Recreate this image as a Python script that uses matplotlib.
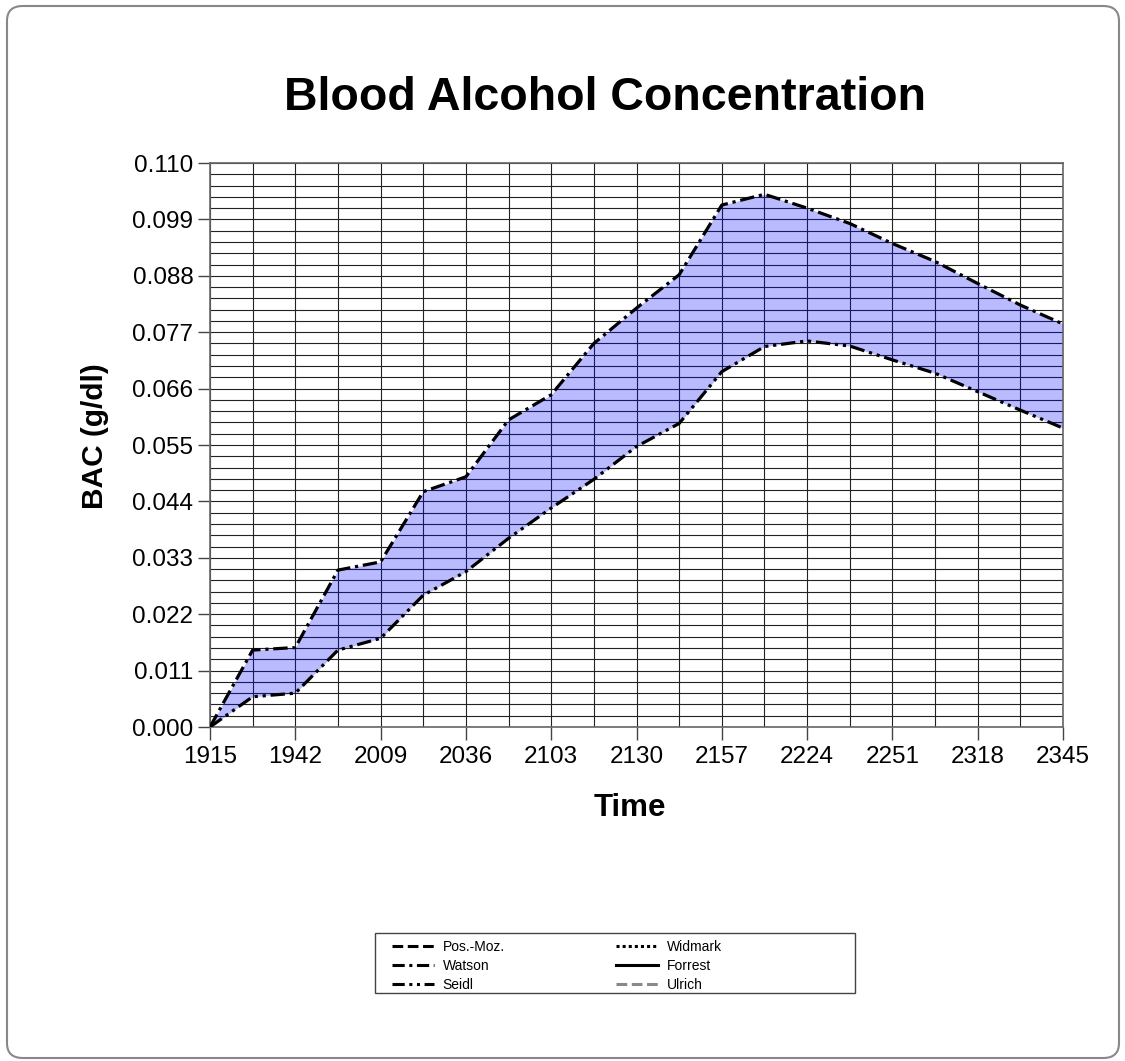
import matplotlib
matplotlib.use("Agg")
import matplotlib.pyplot as plt
from matplotlib.lines import Line2D
from matplotlib.patches import FancyBboxPatch, Rectangle
import numpy as np

plt.rcParams['font.family'] = ['Liberation Sans', 'DejaVu Sans']

# time of day (HHMM), labelled every other sample
time_labels = ['1915', '1942', '2009', '2036', '2103', '2130',
               '2157', '2224', '2251', '2318', '2345']

# BAC (g/dl) per sample
watson = [0.0, 0.0150, 0.0155, 0.0306, 0.0322, 0.0459, 0.0488, 0.0599,
          0.0648, 0.0748, 0.0817, 0.0882, 0.1018, 0.1039, 0.1012, 0.0982,
          0.0943, 0.0908, 0.0865, 0.0823, 0.0786]
seidl = [0.0, 0.0059, 0.0066, 0.0150, 0.0173, 0.0257, 0.0303, 0.0368,
         0.0427, 0.0483, 0.0547, 0.0592, 0.0693, 0.0742, 0.0753, 0.0743,
         0.0716, 0.0690, 0.0654, 0.0618, 0.0583]

W, H = 1125, 1061
fig = plt.figure(figsize=(W / 100, H / 100), dpi=100)
ax = fig.add_axes([210 / W, 1 - 727 / H, 853 / W, 564 / H])

x = np.arange(len(watson))

ax.fill_between(x, seidl, watson, color='blue', alpha=0.27, lw=0, zorder=2)
ax.plot(x, watson, color='black', lw=2.3, dashes=(4.5, 1.5, 1, 1.5), zorder=3)
ax.plot(x, seidl, color='black', lw=2.3, dashes=(4.5, 1.5, 1, 1.5, 1, 1.5), zorder=3)

ax.set_xlim(0, len(x) - 1)
ax.set_ylim(0, 0.110)
ax.set_xticks(x[::2])
ax.set_xticklabels(time_labels)
ax.set_xticks(x, minor=True)
ax.set_yticks(np.arange(0, 0.1101, 0.011))
ax.set_yticks(np.arange(0, 0.1101, 0.0022), minor=True)
ax.yaxis.set_major_formatter(plt.FormatStrFormatter('%.3f'))

ax.set_axisbelow(True)
ax.grid(which='both', color='#222222', lw=0.8)
ax.tick_params(which='major', length=9, width=1, color='#444444',
               labelsize=17.5, pad=5)
ax.tick_params(axis='y', which='major', pad=3)
ax.tick_params(which='minor', length=0)
for s in ax.spines.values():
    s.set_color('#666666')
    s.set_linewidth(1.2)

fig.text(605 / W, 1 - 98 / H, 'Blood Alcohol Concentration', fontsize=33.5,
         fontweight='bold', ha='center', va='center')
fig.text(630 / W, 1 - 808 / H, 'Time', fontsize=22.5, fontweight='bold',
         ha='center', va='center')
fig.text(95 / W, 1 - 436 / H, 'BAC (g/dl)', fontsize=21.5, fontweight='bold',
         rotation=90, ha='center', va='center')

# legend
handles = [
    Line2D([], [], color='black', lw=2.2, dashes=(3.5, 1.5)),
    Line2D([], [], color='black', lw=2.2, dashes=(4, 1.5, 1, 1.5)),
    Line2D([], [], color='black', lw=2.2, dashes=(4, 1.5, 1, 1.5, 1, 1.5)),
    Line2D([], [], color='black', lw=2.2, dashes=(1, 1)),
    Line2D([], [], color='black', lw=2.2),
    Line2D([], [], color='#888888', lw=2.2, dashes=(3.5, 1.5)),
]
names = ['Pos.-Moz.', 'Watson', 'Seidl', 'Widmark', 'Forrest', 'Ulrich']
fig.legend(handles, names, loc='upper left', bbox_to_anchor=(392 / W, 1 - 940 / H),
           frameon=False, ncol=2, fontsize=10, handlelength=3,
           handletextpad=0.65, columnspacing=8.0, labelspacing=0.35,
           borderpad=0, borderaxespad=0)
fig.patches.append(Rectangle((375 / W, 1 - 993 / H), 480 / W, 60 / H,
                             transform=fig.transFigure, fill=False,
                             edgecolor='#444444', lw=1))

# outer rounded border
fig.patches.append(FancyBboxPatch((7 / W, 3 / H), 1112 / W, 1052 / H,
                                  boxstyle='round,pad=0,rounding_size=0.014',
                                  transform=fig.transFigure, fill=False,
                                  edgecolor='#888888', lw=1.5))

fig.savefig('out.png', dpi=100)
